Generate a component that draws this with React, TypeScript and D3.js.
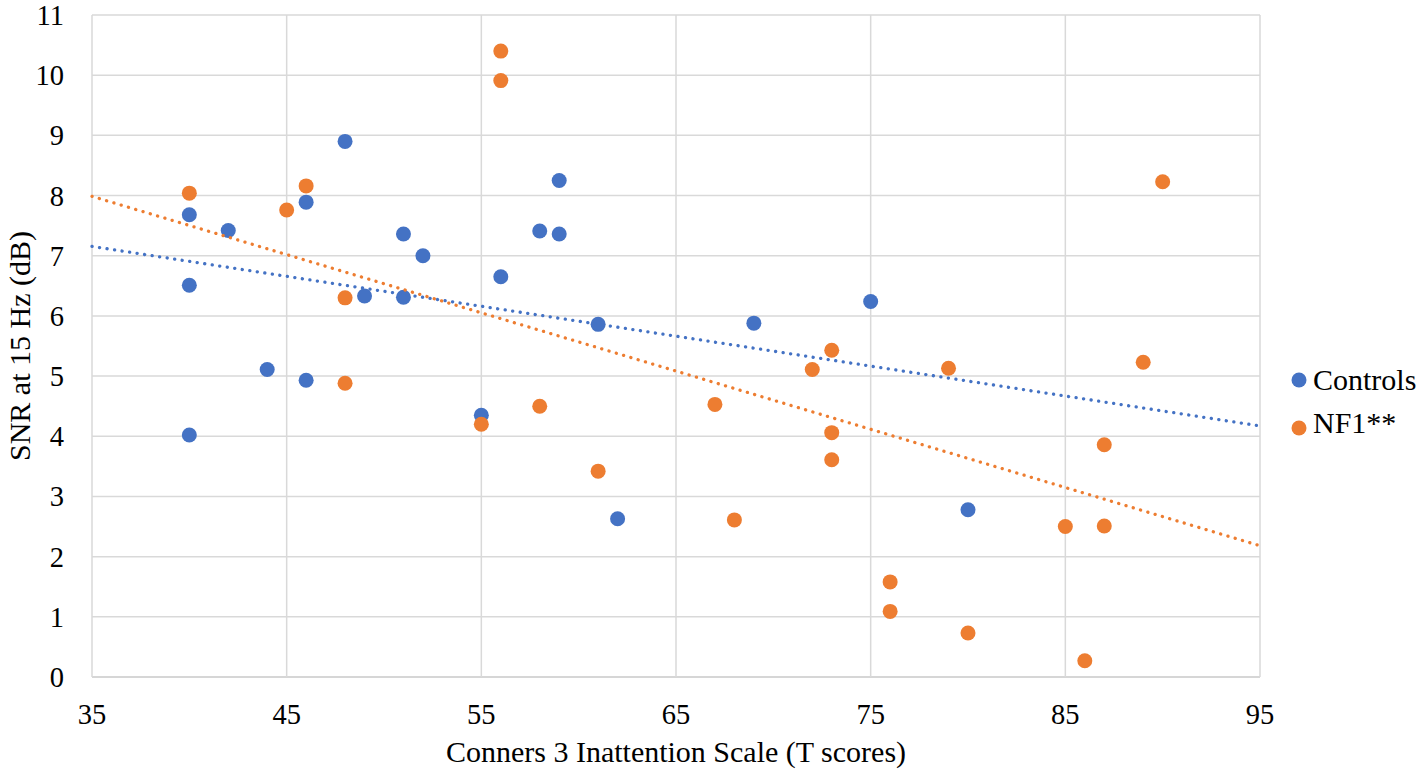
import React from "react";
import * as d3 from "d3";

const xTicks = [35, 45, 55, 65, 75, 85, 95];
const yTicks = [0, 1, 2, 3, 4, 5, 6, 7, 8, 9, 10, 11];

const controlsX = [40, 42, 46, 48, 51, 40, 52, 56, 49, 51, 44, 46, 59, 58, 59, 61, 55, 62, 69, 75, 80, 40];
const controlsY = [7.68, 7.42, 7.89, 8.9, 7.36, 6.51, 7.0, 6.65, 6.33, 6.31, 5.11, 4.93, 8.25, 7.41, 7.36, 5.86, 4.35, 2.63, 5.88, 6.24, 2.78, 4.02];

const nf1X = [40, 45, 46, 48, 48, 56, 56, 55, 58, 61, 67, 68, 72, 73, 73, 73, 76, 76, 79, 80, 85, 86, 87, 87, 89, 90];
const nf1Y = [8.04, 7.76, 8.16, 6.3, 4.88, 10.4, 9.91, 4.2, 4.5, 3.42, 4.53, 2.61, 5.11, 5.43, 4.06, 3.61, 1.58, 1.09, 5.13, 0.73, 2.5, 0.27, 3.86, 2.51, 5.23, 8.23];

const seriesNames = ["Controls", "NF1**"];
const colors = ["#4472C4", "#ED7D31"];

function regression(xs: number[], ys: number[]) {
  const mx = d3.mean(xs) as number;
  const my = d3.mean(ys) as number;
  let sxy = 0;
  let sxx = 0;
  xs.forEach((x, i) => {
    sxy += (x - mx) * (ys[i] - my);
    sxx += (x - mx) * (x - mx);
  });
  const b = sxy / sxx;
  const a = my - b * mx;
  return (x: number) => a + b * x;
}

export default function App() {
  const W = 1424;
  const H = 772;
  const left = 92;
  const right = 1260;
  const top = 15;
  const bottom = 677;
  const x = d3.scaleLinear().domain([35, 95]).range([left, right]);
  const y = d3.scaleLinear().domain([0, 11]).range([bottom, top]);
  const font = "'Liberation Serif', 'Times New Roman', Times, serif";

  const series = [
    { name: seriesNames[0], xs: controlsX, ys: controlsY, color: colors[0] },
    { name: seriesNames[1], xs: nf1X, ys: nf1Y, color: colors[1] },
  ];

  return (
    <svg
      width={W}
      height={H}
      style={{ position: "absolute", left: 0, top: 0, background: "#fff" }}
      fontFamily={font}
    >
      <rect x={0} y={0} width={W} height={H} fill="#fff" />
      {yTicks.map((t) => (
        <line key={"gy" + t} x1={left} x2={right} y1={y(t)} y2={y(t)} stroke={t === 0 ? "#c8c8c8" : "#d9d9d9"} strokeWidth={1.5} />
      ))}
      {xTicks.map((t) => (
        <line key={"gx" + t} x1={x(t)} x2={x(t)} y1={top} y2={bottom} stroke="#d9d9d9" strokeWidth={1.5} />
      ))}
      {yTicks.map((t) => (
        <text key={"ty" + t} x={64} y={y(t) + 10} textAnchor="end" fontSize={28.5} fontFamily={font} fill="#000">
          {t}
        </text>
      ))}
      {xTicks.map((t) => (
        <text key={"tx" + t} x={x(t)} y={724} textAnchor="middle" fontSize={28.5} fontFamily={font} fill="#000">
          {t}
        </text>
      ))}
      <text x={(left + right) / 2} y={762} textAnchor="middle" fontSize={30} fontFamily={font} fill="#000">
        Conners 3 Inattention Scale (T scores)
      </text>
      <text
        transform={`translate(30, ${(top + bottom) / 2}) rotate(-90)`}
        textAnchor="middle"
        fontSize={30}
        fontFamily={font}
        fill="#000"
      >
        SNR at 15 Hz (dB)
      </text>
      {series.map((s) => (
        <g key={s.name}>
          {s.xs.map((xv, i) => (
            <circle key={i} cx={x(xv)} cy={y(s.ys[i])} r={7.5} fill={s.color} />
          ))}
        </g>
      ))}
      {series.map((s) => {
        const f = regression(s.xs, s.ys);
        const pts: [number, number][] = [
          [35, f(35)],
          [95, f(95)],
        ];
        const path = d3
          .line<[number, number]>()
          .x((d) => x(d[0]))
          .y((d) => y(d[1]))(pts) as string;
        return (
          <path
            key={"tr" + s.name}
            d={path}
            fill="none"
            stroke={s.color}
            strokeWidth={3.3}
            strokeLinecap="round"
            strokeDasharray="0.1 7.5"
          />
        );
      })}
      {series.map((s, i) => (
        <g key={"lg" + s.name}>
          <circle cx={1299} cy={380 + i * 48} r={7.5} fill={s.color} />
          <text x={1313} y={390 + i * 43} fontSize={30} fontFamily={font} fill="#000">
            {s.name}
          </text>
        </g>
      ))}
    </svg>
  );
}
